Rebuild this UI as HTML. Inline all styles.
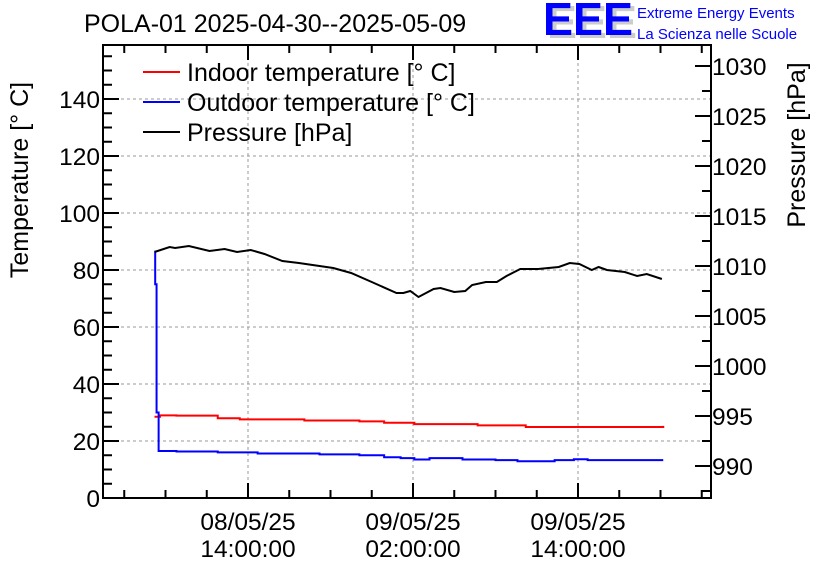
<!DOCTYPE html>
<html><head><meta charset="utf-8">
<style>
body{margin:0;background:#fff;}
svg{display:block;font-family:"Liberation Sans",sans-serif;}
</style></head>
<body>
<svg id="chart" width="836" height="572" viewBox="0 0 836 572">
<text x="84" y="32" font-size="25">POLA-01 2025-04-30--2025-05-09</text>
<g>
<text x="547" y="38" font-size="46" font-weight="bold" fill="#ccc" textLength="90" lengthAdjust="spacingAndGlyphs">EEE</text>
<text x="543" y="35" font-size="46" font-weight="bold" fill="#0000ff" textLength="90" lengthAdjust="spacingAndGlyphs">EEE</text>
<text x="637" y="18" font-size="15" fill="#0000ff">Extreme Energy Events</text>
<text x="637" y="39" font-size="15" fill="#0000ff">La Scienza nelle Scuole</text>
</g>
<g id="grid"></g>
<g id="series"></g>
<g id="axes"></g>
<g>
<line x1="143" y1="72" x2="180" y2="72" stroke="#ff0000" stroke-width="2"/>
<text x="187" y="81" font-size="25">Indoor temperature [° C]</text>
<line x1="143" y1="102" x2="180" y2="102" stroke="#0000ff" stroke-width="2"/>
<text x="187" y="111" font-size="25">Outdoor temperature [° C]</text>
<line x1="143" y1="132" x2="180" y2="132" stroke="#000" stroke-width="2"/>
<text x="187" y="141" font-size="25">Pressure [hPa]</text>
</g>
<text transform="translate(28,180) rotate(-90)" text-anchor="middle" font-size="25">Temperature [° C]</text>
<text transform="translate(805,145) rotate(-90)" text-anchor="middle" font-size="25">Pressure [hPa]</text>
</svg>
<script>
// hours relative to 08/05/25 14:00
const pressT=[-6.8,-5.7,-5.3,-4.3,-2.8,-1.7,-0.8,0.2,1.2,2.5,3.7,4.7,6.2,7.5,9.0,10.8,11.3,11.8,12.4,13.5,14.0,15.0,15.8,16.3,17.3,18.1,18.8,19.8,21.1,22.6,23.4,24.1,25.0,25.5,26.1,27.4,28.3,29.0,30.1];
const pressV=[1011.4,1011.9,1011.8,1012.0,1011.5,1011.7,1011.4,1011.6,1011.2,1010.5,1010.3,1010.1,1009.8,1009.3,1008.4,1007.3,1007.3,1007.5,1006.9,1007.7,1007.8,1007.4,1007.5,1008.1,1008.4,1008.4,1009.0,1009.7,1009.7,1009.9,1010.3,1010.2,1009.6,1009.9,1009.6,1009.4,1009.0,1009.2,1008.7];
const inT=[-6.8,-6.4,-5.2,-2.2,-0.6,4.1,8.1,9.9,12.1,16.7,20.2,29.7,30.2];
const inV=[28.5,29.0,28.9,28.0,27.6,27.2,26.9,26.4,25.9,25.5,24.9,24.9,25.3];
const outT=[-6.8,-6.75,-6.65,-6.5,-5.2,-2.2,0.7,5.2,8.1,9.9,11.1,12.1,13.2,15.6,18.0,19.6,22.3,23.7,24.7,30.2];
const outV=[86.5,75,30,16.5,16.3,16.0,15.6,15.3,15.0,14.3,14.0,13.5,14.0,13.5,13.3,12.9,13.3,13.6,13.3,13.3];
const xTickHours=[0,12,24];
const xTickLabels=[["08/05/25","14:00:00"],["09/05/25","02:00:00"],["09/05/25","14:00:00"]];
const tTicks=[0,20,40,60,80,100,120,140];
const pTicks=[990,995,1000,1005,1010,1015,1020,1025,1030];

const L=103,R=711,T=45,B=498;
const X=h=>248+h*13.75;
const YT=v=>B-v*(B-441)/20;
const YP=p=>466-(p-990)*10;
const NS="http://www.w3.org/2000/svg";
function mk(tag,attrs,parent){const e=document.createElementNS(NS,tag);for(const k in attrs)e.setAttribute(k,attrs[k]);parent.appendChild(e);return e;}
const grid=document.getElementById('grid'),series=document.getElementById('series'),axes=document.getElementById('axes');
const gs={stroke:"#999","stroke-dasharray":"3,3","stroke-width":1};
tTicks.forEach(v=>{if(v>0){const l=mk('line',Object.assign({x1:L,x2:R,y1:YT(v),y2:YT(v)},gs),grid);

}});
xTickHours.forEach(h=>{const l=mk('line',Object.assign({x1:X(h),x2:X(h),y1:T,y2:B},gs),grid);

});
function stepPath(ts,vs){let d="";for(let i=0;i<ts.length;i++){const x=X(ts[i]),y=YT(vs[i]);if(i==0)d+="M"+x+","+y;else d+="H"+x+"V"+y;}return d;}
const pin=mk('path',{d:stepPath(inT,inV),fill:"none",stroke:"#ff0000","stroke-width":2},series);


const pout=mk('path',{d:stepPath(outT,outV),fill:"none",stroke:"#0000ff","stroke-width":2},series);


const pp=mk('polyline',{points:pressT.map((t,i)=>X(t)+","+YP(pressV[i])).join(" "),fill:"none",stroke:"#000","stroke-width":2},series);


const fr=mk('rect',{x:L,y:T,width:R-L,height:B-T,fill:"none",stroke:"#000","stroke-width":2},axes);


for(let h=-9;h<=33;h+=3){const x=X(h);if(x<L||x>R)continue;const big=(h%12===0);const len=big?15:8;
mk('line',{x1:x,x2:x,y1:B,y2:B-len,stroke:"#000","stroke-width":2},axes);
mk('line',{x1:x,x2:x,y1:T,y2:T+len,stroke:"#000","stroke-width":2},axes);}
xTickHours.forEach((h,i)=>{const t=mk('text',{x:X(h),y:530,"text-anchor":"middle","font-size":24.5},axes);t.textContent=xTickLabels[i][0];


const t2=mk('text',{x:X(h),y:557,"text-anchor":"middle","font-size":24.5},axes);t2.textContent=xTickLabels[i][1];

});
for(let v=0;v<=160;v+=5){const y=YT(v);if(y<T)continue;const big=v%20===0;mk('line',{x1:L,x2:L+(big?16:9),y1:y,y2:y,stroke:"#000","stroke-width":2},axes);}
tTicks.forEach(v=>{const t=mk('text',{x:100,y:YT(v)+9,"text-anchor":"end","font-size":24.5},axes);t.textContent=v;

});
for(let p=987.5;p<=1032;p+=2.5){const y=YP(p);if(y<T||y>B)continue;const big=p%5===0;mk('line',{x1:R,x2:R-(big?16:9),y1:y,y2:y,stroke:"#000","stroke-width":2},axes);}
pTicks.forEach(p=>{const t=mk('text',{x:712,y:YP(p)+9,"font-size":24.5},axes);t.textContent=p;

});
</script>
</body></html>
